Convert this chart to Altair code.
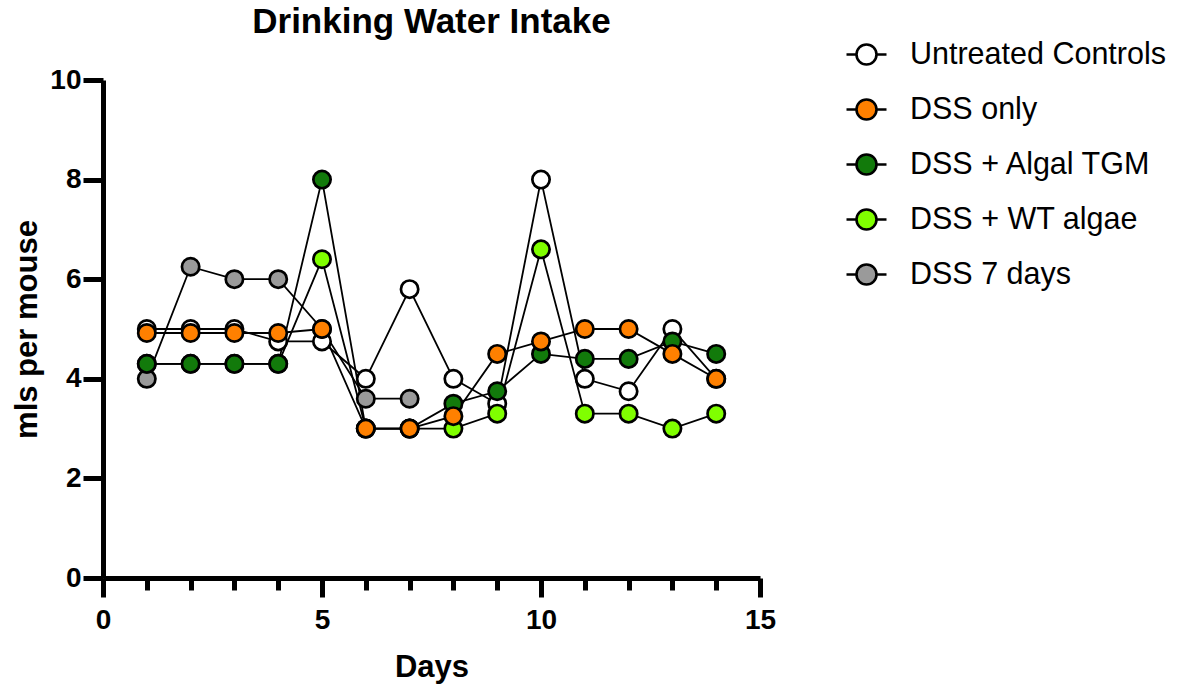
import altair as alt
import pandas as pd

days = list(range(1, 15))
series_names = ["Untreated Controls", "DSS only", "DSS + Algal TGM", "DSS + WT algae", "DSS 7 days"]
series_colors = ["#FFFFFF", "#FF8000", "#127A0B", "#80FF00", "#9A9A9A"]

untreated = [5.0, 5.0, 5.0, 4.75, 4.75, 4.0, 5.8, 4.0, 3.5, 8.0, 4.0, 3.75, 5.0, 4.0]
dss_only = [4.92, 4.92, 4.92, 4.92, 5.0, 3.0, 3.0, 3.25, 4.5, 4.75, 5.0, 5.0, 4.5, 4.0]
algal_tgm = [4.3, 4.3, 4.3, 4.3, 8.0, 3.0, 3.0, 3.5, 3.75, 4.5, 4.4, 4.4, 4.75, 4.5]
wt_algae = [4.3, 4.3, 4.3, 4.3, 6.4, 3.0, 3.0, 3.0, 3.3, 6.6, 3.3, 3.3, 3.0, 3.3]
dss_7days = [4.0, 6.25, 6.0, 6.0, 5.0, 3.6, 3.6]

# drawing order (bottom -> top)
draw_order = ["Untreated Controls", "DSS 7 days", "DSS + WT algae", "DSS + Algal TGM", "DSS only"]

rows = []
for name, vals in zip(series_names, [untreated, dss_only, algal_tgm, wt_algae, dss_7days]):
    for d, v in zip(days, vals):
        rows.append({"day": d, "ml": v, "group": name, "z": draw_order.index(name)})
df = pd.DataFrame(rows)

FONT = "Liberation Sans"

legend_symbol = ("M-1,0L-0.5,0M0.5,0L1,0"
                 "M0.5,0A0.5,0.5,0,1,1,-0.5,0A0.5,0.5,0,1,1,0.5,0Z")

x_axis = alt.Axis(
    values=list(range(0, 16)),
    labelExpr="datum.value % 5 === 0 ? datum.label : ''",
    tickSize={"condition": {"test": "datum.value % 5 === 0", "value": 19}, "value": 12},
    labelPadding=9,
    labelFlush=False,
    title="Days",
    titlePadding=18,
)
y_axis = alt.Axis(
    values=[0, 2, 4, 6, 8, 10],
    tickSize=20,
    labelPadding=2,
    labelFlush=False,
    title="mls per mouse",
    titlePadding=6,
)

x = alt.X("day:Q", scale=alt.Scale(domain=[0, 15], nice=False, zero=False), axis=x_axis)
y = alt.Y("ml:Q", scale=alt.Scale(domain=[0, 10], nice=False), axis=y_axis)

lines = alt.Chart(df).mark_line(color="black", strokeWidth=1.8).encode(
    x=x, y=y, detail="group:N", order="day:Q"
)

points = alt.Chart(df).mark_point(
    shape="circle", filled=True, size=300, stroke="black", strokeWidth=2.7,
    fillOpacity=1, strokeOpacity=1, opacity=1
).encode(
    x=x,
    y=y,
    fill=alt.Fill(
        "group:N",
        scale=alt.Scale(domain=series_names, range=series_colors),
        legend=alt.Legend(
            title=None,
            orient="none",
            legendX=742,
            legendY=-47,
            padding=0,
            symbolType=legend_symbol,
            symbolSize=1600,
            symbolStrokeColor="black",
            symbolStrokeWidth=2.6,
            symbolOpacity=1,
            labelFont=FONT,
            labelFontSize=30.5,
            labelColor="black",
            labelOffset=22,
            rowPadding=18,
            labelLimit=400,
        ),
    ),
    order="z:Q",
)

chart = (
    alt.layer(lines, points)
    .properties(
        width=657,
        height=498,
        autosize=alt.AutoSizeParams(type="none"),
        padding={"left": 103, "top": 80, "right": 425, "bottom": 111},
        title=alt.TitleParams(
            "Drinking Water Intake",
            font=FONT,
            fontSize=35,
            fontWeight="bold",
            color="black",
            anchor="middle",
            frame="group",
            offset=-7,
        ),
    )
    .configure_view(stroke=None)
    .configure_axis(
        grid=False,
        domainColor="black",
        domainWidth=5,
        tickColor="black",
        tickWidth=5,
        labelFont=FONT,
        labelFontSize=28,
        labelFontWeight="bold",
        labelColor="black",
        titleFont=FONT,
        titleFontSize=31,
        titleFontWeight="bold",
        titleColor="black",
    )
)

chart.save("out.html", embed_options={"renderer": "svg", "actions": False})
